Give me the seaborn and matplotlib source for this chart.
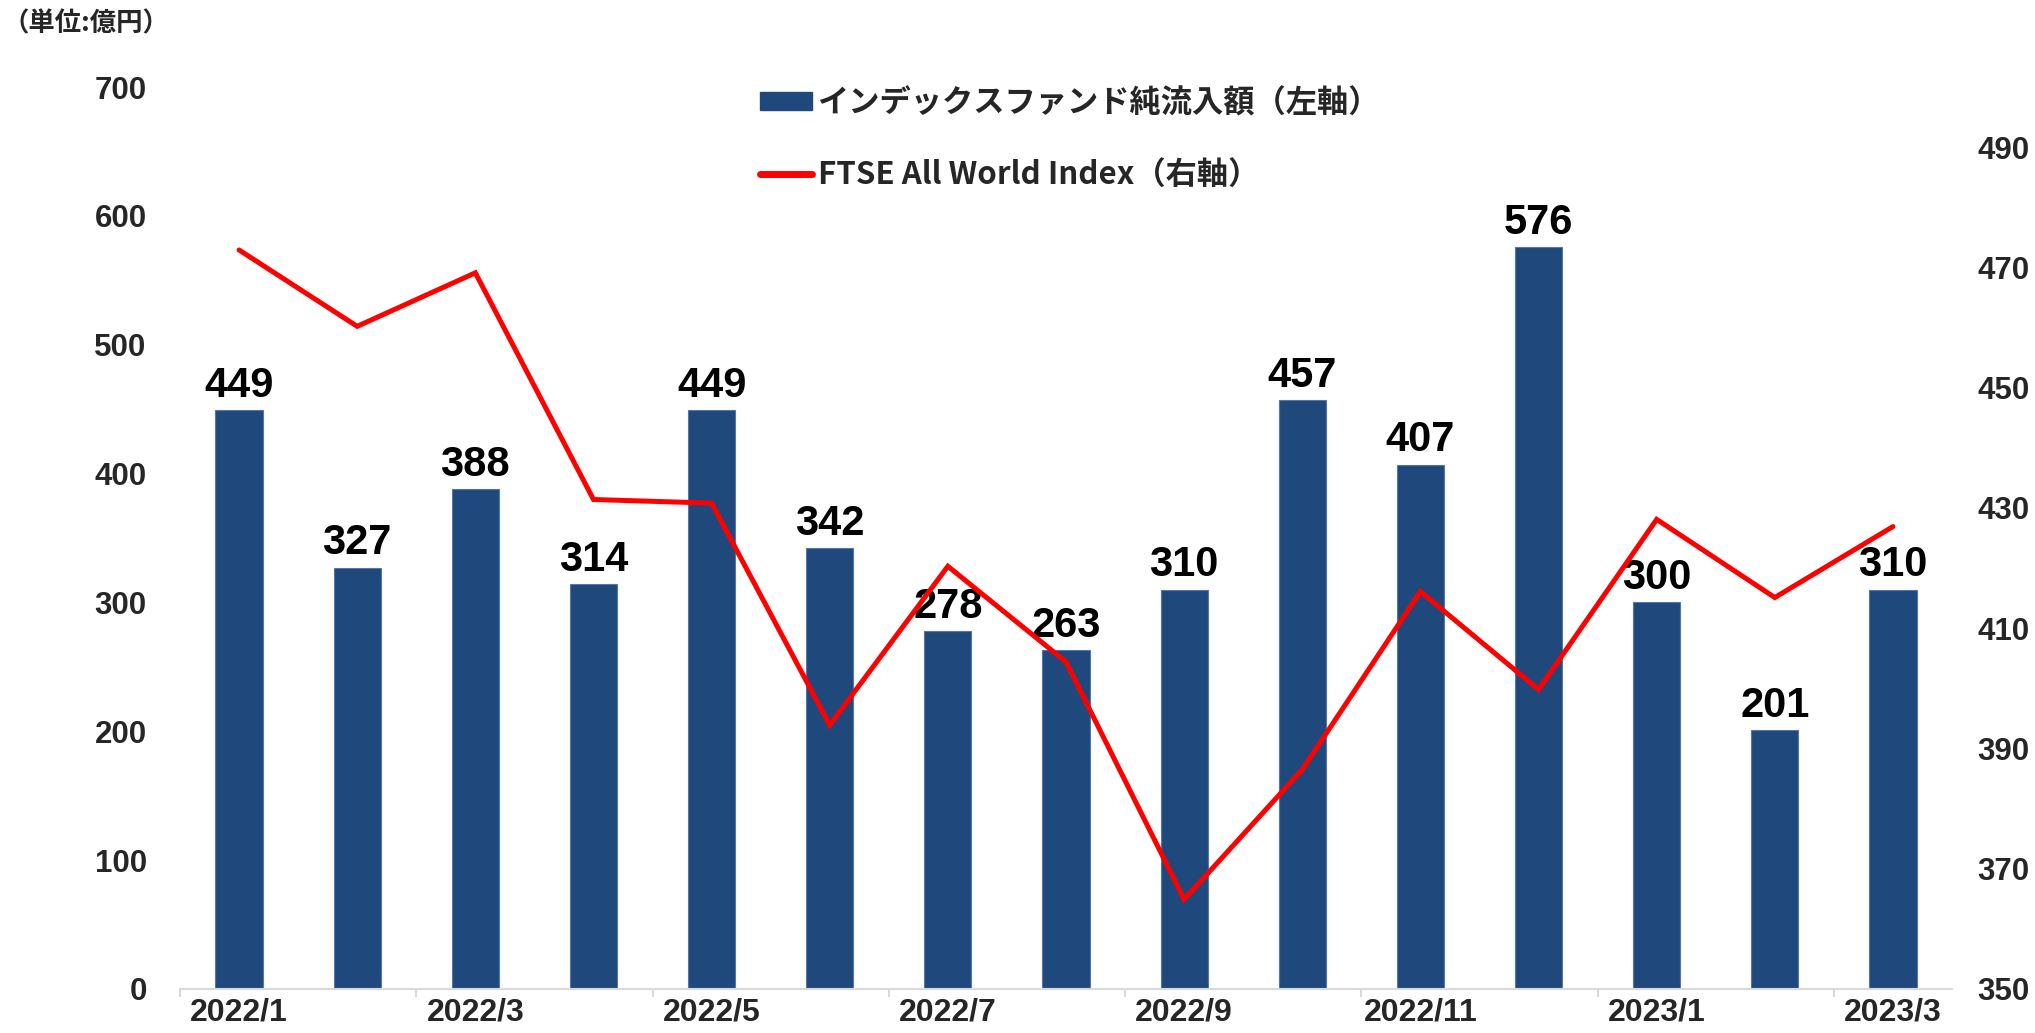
import numpy as np
import pandas as pd
import matplotlib
matplotlib.use("Agg")
import matplotlib.pyplot as plt
import seaborn as sns
from matplotlib.patches import Patch
from matplotlib.lines import Line2D

# ---------------- data ----------------
months = ["2022/1", "2022/2", "2022/3", "2022/4", "2022/5", "2022/6", "2022/7",
          "2022/8", "2022/9", "2022/10", "2022/11", "2022/12", "2023/1", "2023/2", "2023/3"]
inflow = [449, 327, 388, 314, 449, 342, 278, 263, 310, 457, 407, 576, 300, 201, 310]
ftse = [472.9, 460.2, 469.1, 431.4, 430.8, 393.9, 420.3, 404.4, 364.9, 386.5,
        416.1, 399.8, 428.1, 415.1, 426.9]
shown_ticks = months[::2]
left_ticks = [0, 100, 200, 300, 400, 500, 600, 700]
right_ticks = [350, 370, 390, 410, 430, 450, 470, 490]
bar_name = "インデックスファンド純流入額（左軸）"
line_name = "FTSE All World Index（右軸）"
unit_text = "（単位:億円）"

# ---------------- style ----------------
sns.set_theme(style="white")
plt.rcParams["font.family"] = ["Liberation Sans", "Noto Sans CJK JP", "DejaVu Sans"]

BLUE = "#1F497D"
RED = "#FF0000"
GREY = "#D9D9D9"

df = pd.DataFrame({"month": months, "inflow": inflow, "ftse": ftse,
                   "pos": np.arange(len(months))})

W, H = 2035, 1033
fig = plt.figure(figsize=(W / 100, H / 100), dpi=100)
L, R, T, B = 180, 1952, 87, 989
ax = fig.add_axes([L / W, 1 - B / H, (R - L) / W, (B - T) / H])

sns.barplot(data=df, x="month", y="inflow", color=BLUE, saturation=1, width=0.4,
            edgecolor="#5677A6", linewidth=0.8, ax=ax)
ax.set_ylim(0, 700)
ax.set_xlim(-0.5, len(months) - 0.5)
ax.set_yticks(left_ticks)
ax.set_yticklabels([str(v) for v in left_ticks])
ax.set_xticks(np.arange(0, len(months), 2))
ax.set_xticklabels(shown_ticks)
ax.set_xticks(np.arange(-0.5, len(months) - 1, 2), minor=True)
ax.set_xlabel("")
ax.set_ylabel("")
ax.tick_params(axis="x", which="major", length=0, pad=6, labelsize=23)
ax.tick_params(axis="x", which="minor", length=5.5, width=1.5, color=GREY, bottom=True)
ax.tick_params(axis="y", length=0, pad=24, labelsize=22.5)
for s in ["left", "right", "top"]:
    ax.spines[s].set_visible(False)
ax.spines["bottom"].set_color(GREY)
ax.spines["bottom"].set_linewidth(1.5)
for lab in ax.get_xticklabels() + ax.get_yticklabels():
    lab.set_fontweight("bold")

ax.bar_label(ax.containers[0], labels=[str(v) for v in inflow], padding=3,
             fontsize=30, fontweight="bold", color="black")

ax2 = ax.twinx()
sns.lineplot(data=df, x="pos", y="ftse", color=RED, linewidth=3.6, ax=ax2,
             legend=False, solid_joinstyle="miter")
ax2.set_ylim(350, 500)
ax2.set_xlim(-0.5, len(months) - 0.5)
ax2.set_yticks(right_ticks)
ax2.set_yticklabels([str(v) for v in right_ticks])
ax2.set_xlabel("")
ax2.set_ylabel("")
ax2.tick_params(axis="y", length=0, pad=18, labelsize=22.5)
for lab in ax2.get_yticklabels():
    lab.set_fontweight("bold")
for s in ax2.spines.values():
    s.set_visible(False)
ax2.grid(False)
ax.grid(False)

handles = [Patch(facecolor=BLUE, edgecolor=BLUE, label=bar_name),
           Line2D([], [], color=RED, linewidth=5, solid_capstyle="round", label=line_name)]
fig.legend(handles=handles, loc="upper left", bbox_to_anchor=(760 / W, 1 - 87 / H),
           frameon=False, prop=dict(family=["Noto Sans CJK JP"], weight="bold", size=22.5),
           handlelength=1.66, handleheight=0.55, handletextpad=0.18, labelspacing=1.3,
           borderpad=0, borderaxespad=0)

fig.text(2 / W, 1 - 24 / H, unit_text, fontsize=19, fontweight="bold", va="center", ha="left",
         family=["Noto Sans CJK JP"])

fig.savefig("out.png", dpi=100)
